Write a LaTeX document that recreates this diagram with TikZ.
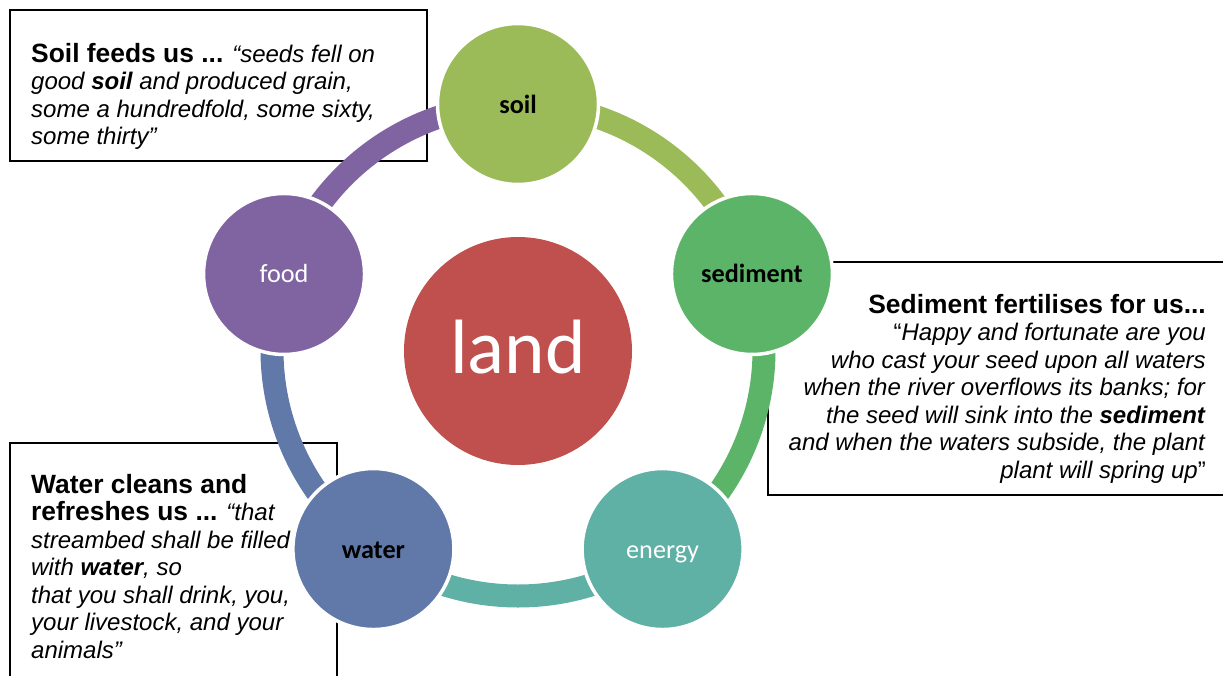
\documentclass[tikz,border=0pt]{standalone}
\usepackage{fontspec}
\usetikzlibrary{calc}
\setmainfont{Liberation Sans}
\newfontfamily\calfont{Carlito}
\definecolor{cSoil}{HTML}{9BBB59}
\definecolor{cSed}{HTML}{5CB469}
\definecolor{cEnergy}{HTML}{5FB0A5}
\definecolor{cWater}{HTML}{6079A9}
\definecolor{cFood}{HTML}{8064A2}
\definecolor{cLand}{HTML}{C0504D}
\tikzset{
  txtbox/.style={draw=black, line width=1.4pt, fill=white},
  ringarc/.style={line width=23pt, line cap=butt},
  bubble/.style={circle, draw=white, line width=3.5pt, minimum size=161pt, inner sep=0pt,
    text height=18pt, text depth=0pt, font=\calfont\fontsize{26.2}{30}\selectfont},
  hub/.style={circle, fill=cLand, minimum size=228pt, inner sep=0pt, text=white,
    text height=44pt, text depth=0pt, font=\calfont\fontsize{77}{80}\selectfont},
  quotetext/.style={inner sep=0pt, font=\fontsize{24}{27.5}\selectfont},
}
\newcommand{\ttl}[1]{{\bfseries\fontsize{26.4}{27.5}\selectfont #1}}
\begin{document}
\begin{tikzpicture}[x=1pt,y=-1pt]
\useasboundingbox (0,0) rectangle (1223,675);
\clip (0,0) rectangle (1223,675);
% text boxes
\draw[txtbox] (10,10) rectangle (427,161);
\draw[txtbox] (768,262) rectangle (1240,495);
\draw[txtbox] (10,443) rectangle (337,700);
% (base anchor = baseline of the last line)
\node[quotetext, anchor=base west, align=left] (tsoil) at (31,144.5)
  {\ttl{Soil feeds us ...} \textit{“seeds fell on}\\
   \textit{good \textbf{soil} and produced grain,}\\
   \textit{some a hundredfold, some sixty,}\\
   \textit{some thirty”}};
\node[quotetext, anchor=base east, align=right] (tsed) at (1206,478)
  {\ttl{Sediment fertilises for us...}\\
   “\textit{Happy and fortunate are you}\\
   \textit{who cast your seed upon all waters}\\
   \textit{when the river overflows its banks; for}\\
   \textit{the seed will sink into the \textbf{sediment}}\\
   \textit{and when the waters subside, the plant}\\
   \textit{plant will spring up}”};
\node[quotetext, anchor=base west, align=left] (twater) at (31,658)
  {\ttl{Water cleans and}\\
   \ttl{refreshes us ...} \textit{“that}\\
   \textit{streambed shall be filled}\\
   \textit{with \textbf{water}, so}\\
   \textit{that you shall drink, you,}\\
   \textit{your livestock, and your}\\
   \textit{animals”}};
% ring centre
\coordinate (c) at (518,350);
% connecting arcs
\draw[ringarc, cSoil]   ($(c)+(-90:246)$) arc[start angle=-90, end angle=-18, radius=246];
\draw[ringarc, cSed]    ($(c)+(-18:246)$) arc[start angle=-18, end angle=54, radius=246];
\draw[ringarc, cEnergy] ($(c)+(54:246)$)  arc[start angle=54, end angle=126, radius=246];
\draw[ringarc, cWater]  ($(c)+(126:246)$) arc[start angle=126, end angle=198, radius=246];
\draw[ringarc, cFood]   ($(c)+(198:246)$) arc[start angle=198, end angle=270, radius=246];
% centre
\node[hub] (land) at (518,351) {land};
% outer circles
\node[bubble, fill=cSoil] (soil) at ($(c)+(-90:246)$) {\bfseries soil};
\node[bubble, fill=cSed] (sediment) at ($(c)+(-18:246)$) {\bfseries sediment};
\node[bubble, fill=cEnergy, text=white] (energy) at ($(c)+(54:246)$) {energy};
\node[bubble, fill=cWater] (water) at ($(c)+(126:246)$) {\bfseries water};
\node[bubble, fill=cFood, text=white] (food) at ($(c)+(198:246)$) {food};
\end{tikzpicture}
\end{document}
